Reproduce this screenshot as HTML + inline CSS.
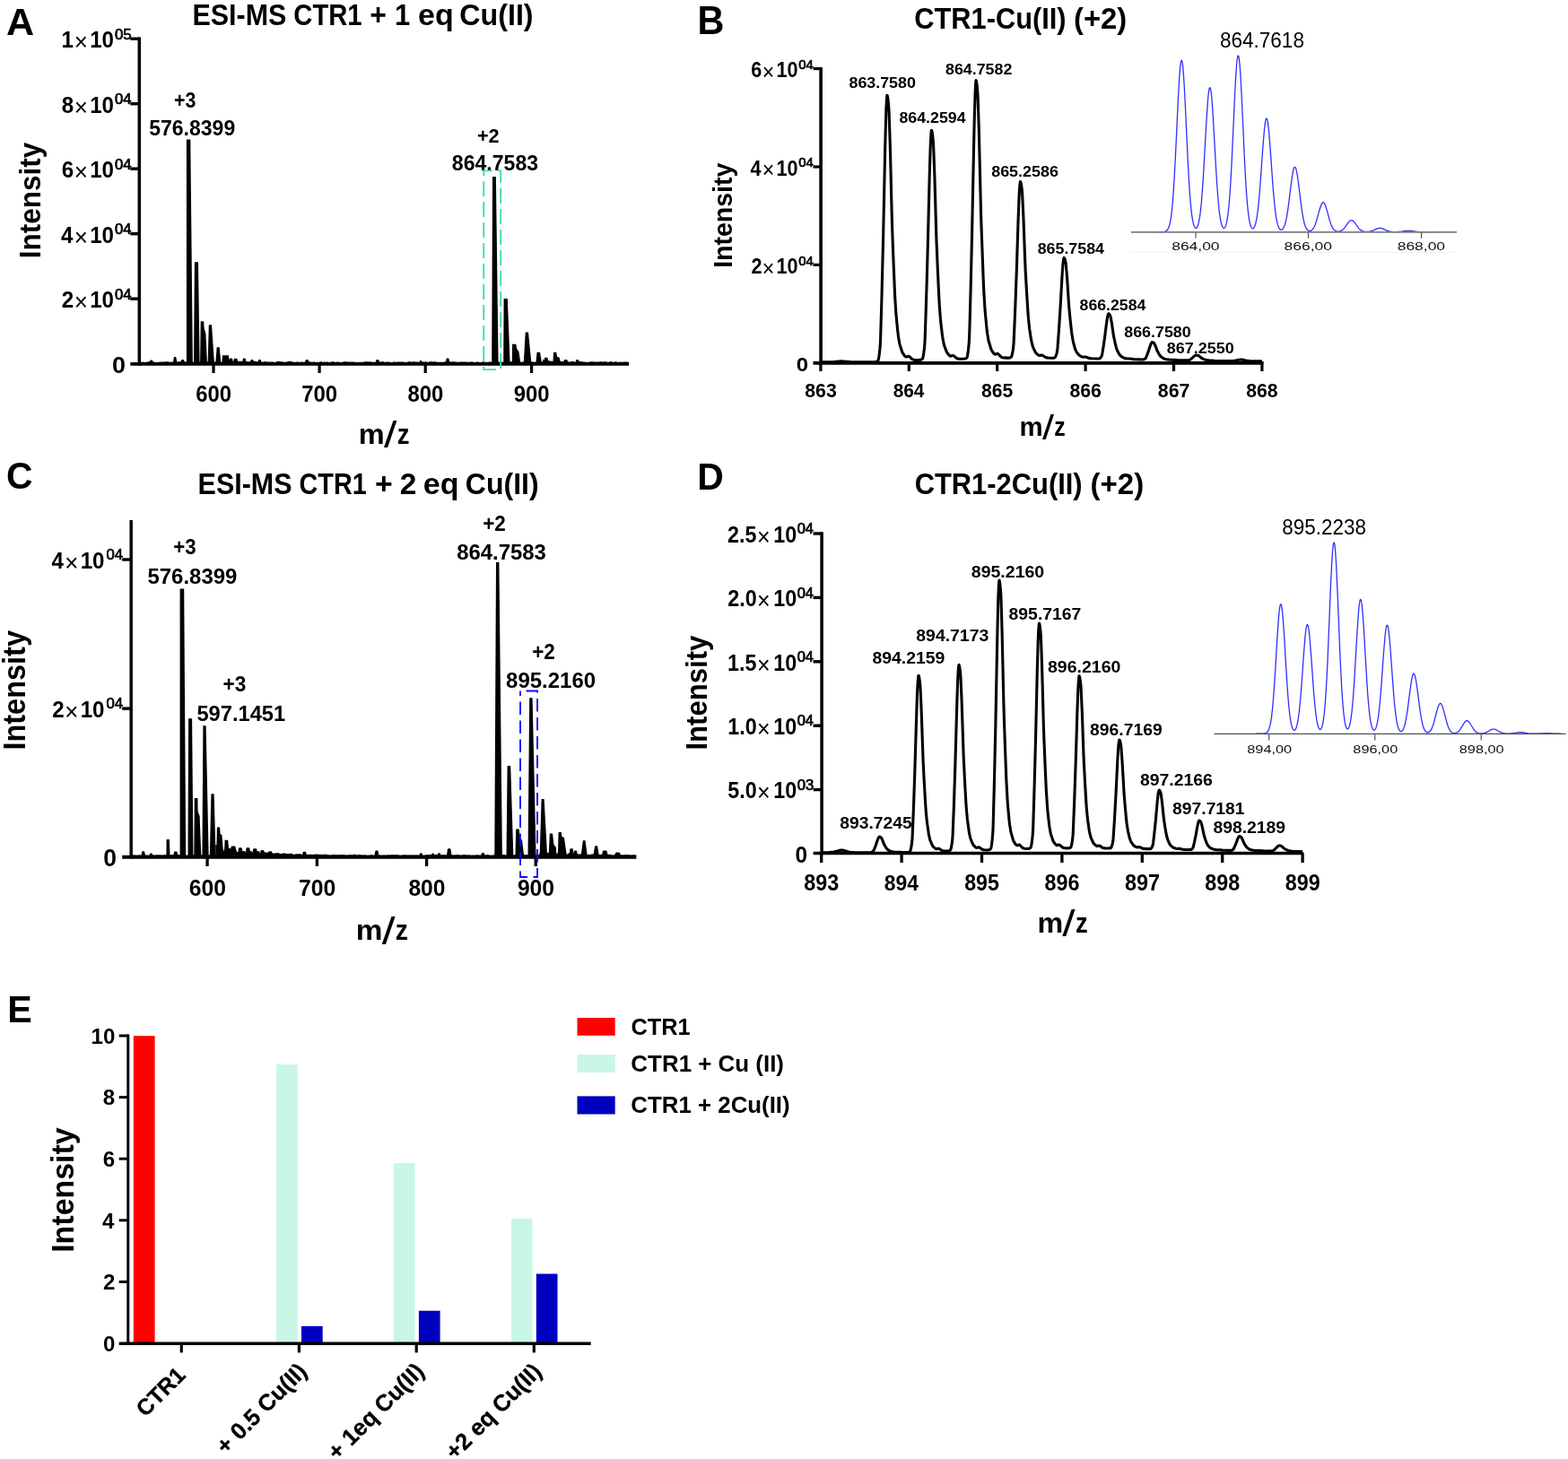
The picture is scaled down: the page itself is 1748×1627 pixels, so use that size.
<!DOCTYPE html>
<html lang="en"><head><meta charset="utf-8"><title>ESI-MS CTR1 Cu(II) figure</title>
<style>html,body{margin:0;padding:0;background:#fff;}svg{display:block;}text{font-family:"Liberation Sans",Arial,Helvetica,sans-serif;}</style></head>
<body>
<svg width="1748" height="1627" viewBox="0 0 1748 1627">
<rect width="1748" height="1627" fill="#ffffff"/>
<g id="panelA">
<text transform="translate(7.12 38.9) scale(1.0055 1.0000)" font-size="42.9" font-weight="bold" fill="#000">A</text>
<text y="27.7" font-size="33.62" font-weight="bold" fill="#000"><tspan x="214.42" textLength="104.95" lengthAdjust="spacingAndGlyphs">ESI-MS</tspan> <tspan x="327.33" textLength="76.24" lengthAdjust="spacingAndGlyphs">CTR1</tspan> <tspan x="412.32" textLength="18.62" lengthAdjust="spacingAndGlyphs">+</tspan> <tspan x="439.94" textLength="17.28" lengthAdjust="spacingAndGlyphs">1</tspan> <tspan x="466.14" textLength="39.64" lengthAdjust="spacingAndGlyphs">eq</tspan> <tspan x="512.31" textLength="82.29" lengthAdjust="spacingAndGlyphs">Cu(II)</tspan></text>
<text transform="translate(45 286.2) rotate(-90) translate(-2.05 0) scale(0.9446 1)" font-size="33.33" font-weight="bold" fill="#000">Intensity</text>
<text y="494.8" font-weight="bold" fill="#000"><tspan x="399.89" dy="0" font-size="30.75" textLength="28.91" lengthAdjust="spacingAndGlyphs">m</tspan><tspan x="428.05" dy="4.47" font-size="41.57" font-weight="normal" textLength="14.44" lengthAdjust="spacingAndGlyphs">/</tspan><tspan x="442.68" dy="-4.47" font-size="30.75" textLength="13.78" lengthAdjust="spacingAndGlyphs">z</tspan></text>
<path d="M207.9 405.8 207.9 155.6 212.3 155.6 214.9 405.8ZM216 405.8 216.9 292.2 221 292.2 222.6 405.8ZM223.1 405.8 223.7 358.2 227.2 358.2 227.6 366 229.4 372 231 405.8ZM231.6 405.8 232.8 362.2 236 362.2 239 405.8ZM240.2 405.8 241.7 387.3 244.7 387.3 246.4 405.8ZM247.1 405.8 248.1 396.3 254.9 396.3 256.1 405.8ZM548.2 405.8 549 196.9 552.9 196.9 555.6 405.8ZM561.2 405.8 561.6 333 565.8 333 568.6 405.8ZM570.7 405.8 571.1 383.7 575.3 383.7 576.2 389 578.4 392 580.5 405.8ZM583.7 405.8 585.7 370.4 589 370.4 592.5 405.8ZM597.2 405.8 598.6 392.7 602 392.7 604.2 405.8ZM606 405.8 607.2 398.7 610.4 398.7 612 405.8ZM616.3 405.8 617.1 392.7 620.3 392.7 621 398 623.6 398.5 625.1 405.8ZM166.1 405.8 167.2 402.2 167.7 401.4 169.7 401.4 170.2 402.2 171.3 405.8ZM192.7 405.8 193.75 398.7 194.2 397.9 196 397.9 196.45 398.7 197.5 405.8ZM200.7 405.8 201.85 401.8 202.4 401 204.6 401 205.15 401.8 206.3 405.8ZM259.6 405.8 260.82 400.6 261.45 399.8 263.95 399.8 264.57 400.6 265.8 405.8ZM269.7 405.8 270.8 400.3 271.3 399.5 273.3 399.5 273.8 400.3 274.9 405.8ZM278.4 405.8 279.5 401.8 280 401 282 401 282.5 401.8 283.6 405.8ZM286.8 405.8 287.9 401.8 288.4 401 290.4 401 290.9 401.8 292 405.8ZM339.4 405.8 340.55 401.7 341.1 400.9 343.3 400.9 343.85 401.7 345 405.8ZM418.1 405.8 419.25 401.8 419.8 401 422 401 422.55 401.8 423.7 405.8ZM466.8 405.8 467.8 402.8 468.2 402 469.8 402 470.2 402.8 471.2 405.8ZM496.4 405.8 497.5 400.3 498 399.5 500 399.5 500.5 400.3 501.6 405.8ZM627.6 405.8 628.83 401.8 629.45 401 631.95 401 632.58 401.8 633.8 405.8ZM641 405.8 642.1 401.8 642.6 401 644.6 401 645.1 401.8 646.2 405.8ZM254.7 405.8 255.85 400.3 256.4 399.5 258.6 399.5 259.15 400.3 260.3 405.8Z" fill="#000" stroke="none"/>
<path d="M157 405.8 157 403.77 159.01 403.77 159.01 403.48 160.36 403.48 160.36 403.95 162.13 403.95 162.13 403.77 164.36 403.77 164.36 403.29 166.97 403.29 166.97 403.84 170.08 403.84 170.08 403.54 172.76 403.54 172.76 403.91 175.26 403.91 175.26 403.72 178.36 403.72 178.36 403.58 181.49 403.58 181.49 403.39 183.56 403.39 183.56 403.32 186.82 403.32 186.82 403.26 188.32 403.26 188.32 403.79 190.48 403.79 190.48 403.46 192.8 403.46 192.8 403.65 195.28 403.65 195.28 403.49 197.98 403.49 197.98 403.22 201.36 403.22 201.36 403.42 204.46 403.42 204.46 403.19 206.91 403.19 206.91 403.39 209.94 403.39 209.94 403.5 211.28 403.5 211.28 403.28 212.67 403.28 212.67 403.32 214.2 403.32 214.2 403.72 217.32 403.72 217.32 403.92 218.62 403.92 218.62 403.39 221.76 403.39 221.76 403.18 225.16 403.18 225.16 403.71 227.68 403.71 227.68 403.93 229.78 403.93 229.78 403.47 231.07 403.47 231.07 403.27 234.38 403.27 234.38 403.24 236.59 403.24 236.59 403.54 239.1 403.54 239.1 403.51 242.37 403.51 242.37 403.55 245.15 403.55 245.15 403.77 248.51 403.77 248.51 401.44 249.73 401.44 249.73 401.59 250.98 401.59 250.98 401.46 252.31 401.46 252.31 401.75 255 401.75 255 401.89 257.83 401.89 257.83 402.95 260.51 402.95 260.51 402.14 262.72 402.14 262.72 402.47 264.72 402.47 264.72 402.74 267.23 402.74 267.23 402.84 270.13 402.84 270.13 403.04 272.94 403.04 272.94 403.09 275.91 403.09 275.91 403.23 278.07 403.23 278.07 402.94 279.98 402.94 279.98 402.99 282.14 402.99 282.14 402.86 284.08 402.86 284.08 402.82 286.28 402.82 286.28 403.44 288.64 403.44 288.64 403.32 291.69 403.32 291.69 403.5 294.66 403.5 294.66 403.06 296.62 403.06 296.62 403.6 299.57 403.6 299.57 403.51 301.69 403.51 301.69 403.4 304.91 403.4 304.91 403.69 308.19 403.69 308.19 403.01 310.34 403.01 310.34 402.98 312.03 402.98 312.03 403.17 314.69 403.17 314.69 403.42 316.64 403.42 316.64 403.68 319.13 403.68 319.13 403.58 320.43 403.58 320.43 403.11 323.67 403.11 323.67 403.12 326.13 403.12 326.13 403.84 327.71 403.84 327.71 403.63 330.07 403.63 330.07 403.53 332.61 403.53 332.61 403.63 335.71 403.63 335.71 403.5 337.68 403.5 337.68 403.74 340.68 403.74 340.68 403.76 343.91 403.76 343.91 403.26 345.13 403.26 345.13 403.4 346.44 403.4 346.44 403.71 348.8 403.71 348.8 403.59 351.7 403.59 351.7 403.94 353.18 403.94 353.18 403.84 356.53 403.84 356.53 403.26 358.83 403.26 358.83 403.69 360.8 403.69 360.8 403.42 362.8 403.42 362.8 403.79 364.27 403.79 364.27 403.49 366.31 403.49 366.31 403.88 368.33 403.88 368.33 403.46 370.37 403.46 370.37 403.3 372.51 403.3 372.51 403.65 375.26 403.65 375.26 403.61 377.47 403.61 377.47 403.75 380.2 403.75 380.2 403.89 382.34 403.89 382.34 403.24 384.36 403.24 384.36 403.23 386.14 403.23 386.14 403.58 389.13 403.58 389.13 403.42 392.07 403.42 392.07 403.42 394.51 403.42 394.51 403.87 395.72 403.87 395.72 403.84 397.02 403.84 397.02 403.88 400.16 403.88 400.16 403.81 403.21 403.81 403.21 403.86 405.89 403.86 405.89 403.29 408.37 403.29 408.37 403.32 411.25 403.32 411.25 403.55 412.69 403.55 412.69 403.36 414.02 403.36 414.02 403.7 417.05 403.7 417.05 403.76 418.8 403.76 418.8 403.46 420.86 403.46 420.86 403.66 422.83 403.66 422.83 403.62 425.13 403.62 425.13 403.18 427.98 403.18 427.98 403.83 430.84 403.83 430.84 403.42 433.11 403.42 433.11 403.44 434.63 403.44 434.63 403.88 437.85 403.88 437.85 403.55 440.63 403.55 440.63 403.81 442.27 403.81 442.27 403.49 443.98 403.49 443.98 403.41 445.83 403.41 445.83 403.4 448.91 403.4 448.91 403.49 450.59 403.49 450.59 403.94 452.63 403.94 452.63 403.82 454.54 403.82 454.54 403.34 457.92 403.34 457.92 403.58 460.15 403.58 460.15 403.29 462.58 403.29 462.58 403.57 465.66 403.57 465.66 403.64 468.97 403.64 468.97 403.59 470.69 403.59 470.69 403.39 474 403.39 474 403.28 475.62 403.28 475.62 403.75 478.37 403.75 478.37 403.27 480.13 403.27 480.13 403.27 482.26 403.27 482.26 403.38 483.66 403.38 483.66 403.29 485.65 403.29 485.65 403.5 486.86 403.5 486.86 403.69 489.13 403.69 489.13 403.79 492.43 403.79 492.43 403.65 493.89 403.65 493.89 403.74 495.34 403.74 495.34 403.25 496.76 403.25 496.76 403.21 499.65 403.21 499.65 403.35 502.34 403.35 502.34 403.44 504.13 403.44 504.13 403.36 506.81 403.36 506.81 403.53 509.09 403.53 509.09 403.68 511.79 403.68 511.79 403.51 514.41 403.51 514.41 403.46 517.56 403.46 517.56 403.44 520.81 403.44 520.81 403.85 523.6 403.85 523.6 403.48 526.22 403.48 526.22 403.59 527.81 403.59 527.81 403.91 530.67 403.91 530.67 403.53 532.66 403.53 532.66 403.75 535.78 403.75 535.78 403.93 537.53 403.93 537.53 403.34 539.46 403.34 539.46 403.64 542.36 403.64 542.36 403.68 543.8 403.68 543.8 403.74 545.25 403.74 545.25 403.34 546.86 403.34 546.86 403.81 549.69 403.81 549.69 403.31 552.19 403.31 552.19 403.84 553.82 403.84 553.82 403.54 555.46 403.54 555.46 403.76 556.73 403.76 556.73 403.32 560.02 403.32 560.02 403.65 562.5 403.65 562.5 403.45 565.21 403.45 565.21 403.72 567.48 403.72 567.48 403.48 568.68 403.48 568.68 403.34 570.96 403.34 570.96 403.54 572.59 403.54 572.59 403.54 574.89 403.54 574.89 403.44 577.34 403.44 577.34 403.19 578.83 403.19 578.83 403.33 580.15 403.33 580.15 403.67 581.52 403.67 581.52 403.53 583.43 403.53 583.43 403.26 584.92 403.26 584.92 403.27 588.16 403.27 588.16 403.39 590.12 403.39 590.12 403.31 593.21 403.31 593.21 403.61 595.48 403.61 595.48 403.87 596.85 403.87 596.85 403.8 599.15 403.8 599.15 403.4 601.28 403.4 601.28 403.44 603.5 403.44 603.5 403.35 605.09 403.35 605.09 401.1 607.1 401.1 607.1 401.94 609.61 401.94 609.61 402.79 611.27 402.79 611.27 402.29 613.49 402.29 613.49 402.81 615.06 402.81 615.06 402.75 616.32 402.75 616.32 403.04 618.6 403.04 618.6 403.26 620.79 403.26 620.79 402.67 622.1 402.67 622.1 402.89 623.36 402.89 623.36 402.58 624.76 402.58 624.76 403.04 627.33 403.04 627.33 403.22 628.65 403.22 628.65 402.89 631.58 402.89 631.58 402.95 633.44 402.95 633.44 403.38 636.43 403.38 636.43 403.11 637.84 403.11 637.84 402.94 640.34 402.94 640.34 403.74 641.74 403.74 641.74 403.62 643.06 403.62 643.06 403.08 644.7 403.08 644.7 402.93 647.67 402.93 647.67 402.94 648.95 402.94 648.95 403.49 652.23 403.49 652.23 403.74 655.3 403.74 655.3 403.73 657.23 403.73 657.23 403.24 658.82 403.24 658.82 403.22 661.86 403.22 661.86 403.38 663.85 403.38 663.85 403.55 666.77 403.55 666.77 403.5 668.34 403.5 668.34 403.3 671.11 403.3 671.11 403.58 672.64 403.58 672.64 403.35 674.87 403.35 674.87 403.29 676.29 403.29 676.29 403.71 678.9 403.71 678.9 403.2 681.09 403.2 681.09 403.19 683.02 403.19 683.02 403.64 685.1 403.64 685.1 403.17 687.55 403.17 687.55 403.85 690.18 403.85 690.18 403.75 691.72 403.75 691.72 403.42 692.94 403.42 692.94 403.75 694.63 403.75 694.63 403.49 697.55 403.49 697.55 403.45 699.92 403.45 699.92 403.8 701.1 403.8 701.1 405.8Z" fill="#000" stroke="none"/>
<line x1="155.3" y1="41.6" x2="155.3" y2="407.7" stroke="#000" stroke-width="3.5"/>
<line x1="145.3" y1="405.8" x2="701.1" y2="405.8" stroke="#000" stroke-width="3.8"/>
<line x1="145.3" y1="43.2" x2="155.6" y2="43.2" stroke="#000" stroke-width="3.4"/>
<line x1="145.3" y1="115.7" x2="155.6" y2="115.7" stroke="#000" stroke-width="3.4"/>
<line x1="145.3" y1="188.2" x2="155.6" y2="188.2" stroke="#000" stroke-width="3.4"/>
<line x1="145.3" y1="260.7" x2="155.6" y2="260.7" stroke="#000" stroke-width="3.4"/>
<line x1="145.3" y1="333.2" x2="155.6" y2="333.2" stroke="#000" stroke-width="3.4"/>
<line x1="238" y1="405.8" x2="238" y2="416" stroke="#000" stroke-width="3.2"/>
<text transform="translate(218.16 447.9) scale(0.9300 1.0000)" font-size="25.7" font-weight="bold" fill="#000">600</text>
<line x1="356.1" y1="405.8" x2="356.1" y2="416" stroke="#000" stroke-width="3.2"/>
<text transform="translate(336.14 447.9) scale(0.9300 1.0000)" font-size="25.78" font-weight="bold" fill="#000">700</text>
<line x1="474.2" y1="405.8" x2="474.2" y2="416" stroke="#000" stroke-width="3.2"/>
<text transform="translate(454.49 447.9) scale(0.9300 1.0000)" font-size="25.62" font-weight="bold" fill="#000">800</text>
<line x1="592.6" y1="405.8" x2="592.6" y2="416" stroke="#000" stroke-width="3.2"/>
<text transform="translate(572.76 447.9) scale(0.9300 1.0000)" font-size="25.7" font-weight="bold" fill="#000">900</text>
<g transform="translate(146.1 53.4) scale(0.9400 1)"><text font-size="25.7" font-weight="bold" y="0"><tspan x="-82.56">1</tspan><tspan x="-67.51" font-weight="normal" font-size="27.6" dy="3">×</tspan><tspan x="-48.88" dy="-3">10</tspan><tspan x="-19.23" dy="-9.7" font-size="16.2" font-weight="normal" stroke="#000" stroke-width="0.7" textLength="19.88" lengthAdjust="spacingAndGlyphs">05</tspan></text></g>
<g transform="translate(146.1 125.9) scale(0.9400 1)"><text font-size="25.7" font-weight="bold" y="0"><tspan x="-82.43">8</tspan><tspan x="-67.51" font-weight="normal" font-size="27.6" dy="3">×</tspan><tspan x="-48.88" dy="-3">10</tspan><tspan x="-19.22" dy="-9.7" font-size="16.2" font-weight="normal" stroke="#000" stroke-width="0.7" textLength="19.68" lengthAdjust="spacingAndGlyphs">04</tspan></text></g>
<g transform="translate(146.1 198.4) scale(0.9400 1)"><text font-size="25.7" font-weight="bold" y="0"><tspan x="-82.3">6</tspan><tspan x="-67.51" font-weight="normal" font-size="27.6" dy="3">×</tspan><tspan x="-48.88" dy="-3">10</tspan><tspan x="-19.22" dy="-9.7" font-size="16.2" font-weight="normal" stroke="#000" stroke-width="0.7" textLength="19.68" lengthAdjust="spacingAndGlyphs">04</tspan></text></g>
<g transform="translate(146.1 270.9) scale(0.9400 1)"><text font-size="25.7" font-weight="bold" y="0"><tspan x="-83.07">4</tspan><tspan x="-67.51" font-weight="normal" font-size="27.6" dy="3">×</tspan><tspan x="-48.88" dy="-3">10</tspan><tspan x="-19.22" dy="-9.7" font-size="16.2" font-weight="normal" stroke="#000" stroke-width="0.7" textLength="19.68" lengthAdjust="spacingAndGlyphs">04</tspan></text></g>
<g transform="translate(146.1 343.4) scale(0.9400 1)"><text font-size="25.7" font-weight="bold" y="0"><tspan x="-82.17">2</tspan><tspan x="-67.51" font-weight="normal" font-size="27.6" dy="3">×</tspan><tspan x="-48.88" dy="-3">10</tspan><tspan x="-19.22" dy="-9.7" font-size="16.2" font-weight="normal" stroke="#000" stroke-width="0.7" textLength="19.68" lengthAdjust="spacingAndGlyphs">04</tspan></text></g>
<text transform="translate(124.92 415.9) scale(1.0657 1.0000)" font-size="25.29" font-weight="bold" fill="#000">0</text>
<text transform="translate(193.94 120.2) scale(0.9308 1.0000)" font-size="23" font-weight="bold" fill="#000">+3</text>
<text transform="translate(166.21 151.2) scale(0.9826 1.0000)" font-size="23.43" font-weight="bold" fill="#000">576.8399</text>
<text transform="translate(531.93 158.5) scale(0.9434 1.0000)" font-size="23" font-weight="bold" fill="#000">+2</text>
<text transform="translate(503.81 189.9) scale(0.9918 1.0000)" font-size="23.29" font-weight="bold" fill="#000">864.7583</text>
<path d="M539.2 190.4H558.2V412.1H539.2Z" fill="none" stroke="#3fdfa6" stroke-width="1.9" stroke-dasharray="17 6" stroke-dashoffset="7.3"/>
</g>
<g id="panelB">
<text transform="translate(777.41 38.4) scale(0.9439 1.0000)" font-size="43.77" font-weight="bold" fill="#000">B</text>
<text y="31.8" font-size="34.06" font-weight="bold" fill="#000"><tspan x="1019.27" textLength="169.35" lengthAdjust="spacingAndGlyphs">CTR1-Cu(II)</tspan> <tspan x="1196.96" textLength="59.26" lengthAdjust="spacingAndGlyphs">(+2)</tspan></text>
<text transform="translate(815.6 297) rotate(-90) translate(-1.86 0) scale(0.9467 1)" font-size="30.14" font-weight="bold" fill="#000">Intensity</text>
<text y="485.5" font-weight="bold" fill="#000"><tspan x="1136.49" dy="0" font-size="28.68" textLength="26.1" lengthAdjust="spacingAndGlyphs">m</tspan><tspan x="1161.92" dy="4.16" font-size="38.77" font-weight="normal" textLength="13.03" lengthAdjust="spacingAndGlyphs">/</tspan><tspan x="1175.13" dy="-4.16" font-size="28.68" textLength="12.44" lengthAdjust="spacingAndGlyphs">z</tspan></text>
<path d="M915.4 403.9 925.9 403.77 929.15 403.56 935.15 403.01 937.9 402.9 940.65 402.99 947.65 403.63 951.9 403.83 974.65 403.89 977.65 403.3 978.65 402.39 978.9 402.06 979.15 401.47 979.65 398.97 980.15 395.71 980.9 388.92 981.4 382.58 981.65 376.69 982.9 333.73 984.65 262.61 986.65 167.8 987.4 137.92 987.9 121.89 988.15 116.48 988.65 108.25 988.9 106.31 989.15 106.39 989.4 107.36 989.9 110.42 990.15 112.66 990.9 121.24 991.15 126.6 992.4 165.54 994.15 237.51 994.65 254.77 995.9 288.67 997.65 330.4 998.9 350.01 1000.65 368.32 1001.4 374.64 1002.65 382.34 1003.15 384.46 1005.9 392.93 1007.15 394.91 1008.9 397.25 1009.65 397.78 1010.65 398.05 1010.9 398 1012.15 397.33 1012.65 397.23 1013.15 397.31 1014.4 398.16 1016.65 400.41 1017.9 401.09 1019.65 401.4 1024.15 401.53 1026.9 401.14 1027.4 400.95 1028.4 400.04 1028.65 399.53 1029.15 397.39 1029.65 394.59 1030.4 388.76 1030.9 383.3 1031.4 371.49 1032.65 332.99 1034.15 279.99 1036.15 198.33 1036.9 172.6 1037.4 158.8 1037.65 154.14 1038.15 147.06 1038.4 145.39 1038.65 145.47 1038.9 146.3 1039.4 148.95 1039.65 150.88 1040.4 158.29 1040.65 162.92 1041.9 196.49 1043.9 266.59 1045.4 302.65 1046.9 334.14 1047.4 342.44 1048.4 355.55 1048.9 360.57 1050.65 375.27 1052.15 383.47 1052.9 386 1055.4 392.65 1056.65 394.37 1058.4 396.42 1059.15 396.89 1060.15 397.13 1061.65 396.53 1062.15 396.45 1062.65 396.54 1063.9 397.28 1065.65 398.87 1066.4 399.41 1067.4 399.86 1068.65 400.11 1074.15 400.29 1076.65 399.83 1077.15 399.51 1077.9 398.69 1078.15 398.22 1078.4 397.33 1078.9 394.37 1079.4 390.75 1079.9 385.92 1080.4 380.01 1080.9 367.39 1082.15 321.33 1083.65 257.35 1085.65 158.74 1086.4 126.71 1087.15 102.52 1087.65 93.2 1087.9 90.32 1088.15 89.7 1088.65 91.71 1089.15 95.5 1089.9 103.83 1090.15 108.59 1091.4 148.07 1093.4 233.07 1093.9 249.58 1096.4 316.34 1096.9 327.05 1097.9 343.25 1098.4 349.7 1100.15 367.78 1100.65 371.52 1101.9 379.38 1102.4 381.32 1104.9 389.47 1105.15 390.06 1105.9 391.29 1107.4 393.53 1108.15 394.47 1108.9 394.96 1109.65 395.19 1110.15 395.07 1111.4 394.42 1111.9 394.38 1112.4 394.55 1113.65 395.53 1115.15 397.22 1115.9 397.9 1116.65 398.38 1117.65 398.72 1119.15 398.92 1123.15 399.11 1126.15 398.84 1126.65 398.61 1127.4 398.07 1127.65 397.69 1127.9 397 1128.65 393.91 1129.4 389.45 1129.9 385.27 1130.15 381.37 1131.65 346.63 1133.4 298.88 1135.15 243.21 1135.9 223.45 1136.4 212.85 1136.65 209.27 1137.15 203.84 1137.4 202.56 1137.65 202.63 1137.9 203.28 1138.4 205.32 1138.65 206.82 1139.4 212.53 1139.65 216.09 1140.9 241.92 1142.65 289.66 1143.15 301.11 1144.4 323.61 1145.9 347.85 1146.4 354.24 1147.15 361.95 1147.65 366.41 1149.4 378.12 1149.9 380.74 1151.15 385.88 1151.65 387.3 1154.4 393 1155.65 394.35 1157.4 395.96 1158.15 396.33 1159.15 396.54 1160.65 396.1 1161.15 396.05 1161.65 396.12 1162.9 396.72 1165.15 398.28 1165.9 398.62 1166.9 398.88 1168.4 399.04 1171.9 399.2 1174.9 399.09 1175.9 398.77 1176.4 398.41 1177.4 396.2 1178.15 393.61 1178.65 391.04 1178.9 388.68 1180.4 368.7 1182.15 341.42 1183.9 309.72 1184.65 298.62 1184.9 295.39 1185.4 290.88 1185.9 287.94 1186.15 287.41 1186.4 287.53 1186.9 288.47 1187.4 290.06 1187.9 292.05 1188.4 295.66 1189.65 310.62 1191.4 337.89 1191.9 344.23 1193.15 357 1194.65 370.76 1195.9 378.68 1196.4 381.17 1198.15 387.82 1198.65 389.27 1199.9 392.19 1200.4 392.97 1203.15 396.23 1205.65 397.7 1206.4 398.03 1207.65 398.26 1209.4 398.04 1210.4 398.07 1211.65 398.44 1213.9 399.35 1215.15 399.64 1216.9 399.8 1221.4 399.97 1224.65 399.97 1225.9 399.78 1226.4 399.45 1227.4 398.29 1228.15 396.97 1228.4 396.23 1228.9 393.68 1229.9 387.68 1231.65 375.56 1233.4 361.37 1234.4 354.53 1234.65 353.13 1235.15 351.2 1235.65 349.97 1235.9 349.79 1236.15 349.9 1236.65 350.35 1237.4 351.53 1237.9 352.74 1238.15 353.79 1239.4 360.63 1241.4 374.45 1243.15 382.54 1244.4 387.67 1244.9 389.22 1246.15 392.29 1248.15 395.64 1249.4 397.02 1249.9 397.44 1252.4 398.85 1253.15 399.17 1256.15 399.92 1257.65 400.04 1260.15 399.99 1263.65 400.61 1265.4 400.78 1273.65 400.96 1274.9 400.86 1275.9 400.46 1276.9 399.81 1277.4 399.02 1278.65 396.13 1280.15 392.11 1282.15 385.92 1282.9 383.9 1283.65 382.39 1284.15 381.81 1284.4 381.63 1284.65 381.6 1285.4 381.85 1286.15 382.33 1286.65 382.84 1286.9 383.27 1288.15 385.98 1290.15 391.35 1291.65 394.08 1293.4 396.8 1294.65 398.07 1296.9 399.58 1298.4 400.21 1301.4 400.9 1304.9 401.3 1308.9 401.36 1313.9 401.7 1322.4 401.86 1324.9 401.73 1325.9 401.53 1326.4 401.3 1327.65 400.42 1329.15 399.2 1331.9 396.69 1332.65 396.23 1333.65 396 1335.15 396.24 1335.9 396.53 1337.15 397.38 1339.15 399.05 1342.15 400.66 1344.15 401.28 1345.9 401.64 1347.65 401.87 1354.15 402.24 1373.65 402.53 1375.65 402.4 1381.15 401.17 1382.9 401 1384.9 401.13 1388.65 401.92 1392.9 402.48 1397.15 402.71 1406.9 402.86" fill="none" stroke="#000" stroke-width="3.1" stroke-linejoin="round" stroke-linecap="butt"/>
<line x1="915.1" y1="75" x2="915.1" y2="406.5" stroke="#000" stroke-width="3.6"/>
<line x1="906.5" y1="404.8" x2="1408.6" y2="404.8" stroke="#000" stroke-width="3.7"/>
<line x1="906.5" y1="76.6" x2="915.4" y2="76.6" stroke="#000" stroke-width="3.2"/>
<g transform="translate(906.5 86.1) scale(0.8856 1)"><text font-size="24.41" font-weight="bold" y="0"><tspan x="-78.19">6</tspan><tspan x="-64.14" font-weight="normal" font-size="26.22" dy="2.85">×</tspan><tspan x="-46.44" dy="-2.85">10</tspan><tspan x="-18.27" dy="-9.21" font-size="15.39" font-weight="normal" stroke="#000" stroke-width="0.7" textLength="18.7" lengthAdjust="spacingAndGlyphs">04</tspan></text></g>
<line x1="906.5" y1="186" x2="915.4" y2="186" stroke="#000" stroke-width="3.2"/>
<g transform="translate(906.5 195.5) scale(0.8856 1)"><text font-size="24.41" font-weight="bold" y="0"><tspan x="-78.92">4</tspan><tspan x="-64.14" font-weight="normal" font-size="26.22" dy="2.85">×</tspan><tspan x="-46.44" dy="-2.85">10</tspan><tspan x="-18.27" dy="-9.21" font-size="15.39" font-weight="normal" stroke="#000" stroke-width="0.7" textLength="18.7" lengthAdjust="spacingAndGlyphs">04</tspan></text></g>
<line x1="906.5" y1="295.4" x2="915.4" y2="295.4" stroke="#000" stroke-width="3.2"/>
<g transform="translate(906.5 304.9) scale(0.8856 1)"><text font-size="24.41" font-weight="bold" y="0"><tspan x="-78.06">2</tspan><tspan x="-64.14" font-weight="normal" font-size="26.22" dy="2.85">×</tspan><tspan x="-46.44" dy="-2.85">10</tspan><tspan x="-18.27" dy="-9.21" font-size="15.39" font-weight="normal" stroke="#000" stroke-width="0.7" textLength="18.7" lengthAdjust="spacingAndGlyphs">04</tspan></text></g>
<text transform="translate(887.74 413.8) scale(1.0980 1.0000)" font-size="21.86" font-weight="bold" fill="#000">0</text>
<line x1="914.9" y1="404.7" x2="914.9" y2="414" stroke="#000" stroke-width="3.2"/>
<text transform="translate(897.26 442.6) scale(0.9475 1.0000)" font-size="22.43" font-weight="bold" fill="#000">863</text>
<line x1="1013.3" y1="404.7" x2="1013.3" y2="414" stroke="#000" stroke-width="3.2"/>
<text transform="translate(995.67 442.6) scale(0.9300 1.0000)" font-size="22.43" font-weight="bold" fill="#000">864</text>
<line x1="1111.7" y1="404.7" x2="1111.7" y2="414" stroke="#000" stroke-width="3.2"/>
<text transform="translate(1094.07 442.6) scale(0.9416 1.0000)" font-size="22.43" font-weight="bold" fill="#000">865</text>
<line x1="1210.1" y1="404.7" x2="1210.1" y2="414" stroke="#000" stroke-width="3.2"/>
<text transform="translate(1192.46 442.6) scale(0.9475 1.0000)" font-size="22.43" font-weight="bold" fill="#000">866</text>
<line x1="1308.5" y1="404.7" x2="1308.5" y2="414" stroke="#000" stroke-width="3.2"/>
<text transform="translate(1290.86 442.6) scale(0.9504 1.0000)" font-size="22.43" font-weight="bold" fill="#000">867</text>
<line x1="1406.9" y1="404.7" x2="1406.9" y2="414" stroke="#000" stroke-width="3.2"/>
<text transform="translate(1389.26 442.6) scale(0.9445 1.0000)" font-size="22.43" font-weight="bold" fill="#000">868</text>
<text transform="translate(946.46 97.8) scale(1.0415 1.0000)" font-size="17.14" font-weight="bold" fill="#000">863.7580</text>
<text transform="translate(1002.47 137.3) scale(1.0369 1.0000)" font-size="17.14" font-weight="bold" fill="#000">864.2594</text>
<text transform="translate(1053.96 83.3) scale(1.0415 1.0000)" font-size="17.14" font-weight="bold" fill="#000">864.7582</text>
<text transform="translate(1105.16 196.8) scale(1.0473 1.0000)" font-size="17.14" font-weight="bold" fill="#000">865.2586</text>
<text transform="translate(1156.67 282.8) scale(1.0397 1.0000)" font-size="17.14" font-weight="bold" fill="#000">865.7584</text>
<text transform="translate(1203.57 345.8) scale(1.0326 1.0000)" font-size="17.14" font-weight="bold" fill="#000">866.2584</text>
<text transform="translate(1253.26 375.5) scale(1.0415 1.0000)" font-size="17.14" font-weight="bold" fill="#000">866.7580</text>
<text transform="translate(1300.86 394.3) scale(1.0472 1.0000)" font-size="17.14" font-weight="bold" fill="#000">867.2550</text>
<line x1="1261" y1="281.4" x2="1624" y2="281.4" stroke="#f3f3dd" stroke-width="1"/>
<path d="M1290 258.6 1295.5 258.56 1298 258.33 1299.5 257.88 1300.5 257.26 1301 256.81 1302 255.47 1302.5 254.51 1303.5 251.82 1304.5 247.76 1305.5 241.86 1306.5 233.66 1307.5 222.74 1309 200.77 1310.5 172.52 1313.5 108.59 1314.5 90.49 1315.5 76.8 1316 72.04 1316.5 68.86 1317 67.34 1317.5 67.51 1318 69.37 1318.5 72.87 1319 77.93 1320 92.13 1321 110.58 1324.5 184.47 1325.5 202.43 1326.5 217.52 1327.5 229.59 1328.5 238.78 1329.5 245.43 1330.5 249.96 1331 251.56 1331.5 252.78 1332 253.64 1332.5 254.19 1333 254.43 1333.5 254.37 1334 254.03 1334.5 253.38 1335 252.41 1335.5 251.1 1336.5 247.31 1337.5 241.69 1338 238.09 1339 229.12 1339.5 223.7 1341 203.62 1342 187.39 1345 133.59 1346.5 111.71 1347 106.33 1347.5 102.16 1348 99.29 1348.5 97.81 1349 97.75 1349.5 99.12 1350 101.88 1350.5 105.95 1351.5 117.6 1352.5 132.92 1355.5 186.7 1356.5 203.01 1358 223.23 1359 233.55 1359.5 237.77 1360.5 244.52 1361 247.11 1362 250.97 1362.5 252.3 1363 253.29 1363.5 253.95 1364 254.31 1364.5 254.37 1365 254.14 1365.5 253.59 1366 252.72 1366.5 251.5 1367 249.88 1367.5 247.83 1368.5 242.22 1369.5 234.23 1370 229.22 1371 216.94 1372 201.56 1373 183.2 1376.5 107.31 1377.5 88.21 1378.5 73.4 1379 68.09 1379.5 64.36 1380 62.3 1380.5 61.99 1381 63.42 1381.5 66.56 1382 71.32 1383 85.18 1384.5 114.05 1387 169.28 1388 189.38 1389 206.82 1390 221.21 1391 232.52 1391.5 237.09 1392.5 244.3 1393 247.04 1394 251.08 1394.5 252.48 1395 253.53 1395.5 254.26 1396 254.7 1396.5 254.87 1397 254.77 1397.5 254.42 1398 253.79 1398.5 252.89 1399 251.68 1400 248.26 1400.5 245.98 1401.5 240.14 1402 236.51 1403 227.77 1404.5 210.95 1408 162.16 1409.5 144.43 1410.5 136.4 1411 133.85 1411.5 132.38 1412 132.02 1412.5 132.78 1413 134.65 1413.5 137.57 1414.5 146.25 1416 164.6 1418.5 200.16 1419.5 213.19 1420.5 224.55 1421.5 233.96 1422.5 241.37 1423 244.38 1424 249.13 1424.5 250.95 1425.5 253.64 1426 254.59 1426.5 255.31 1427 255.83 1427.5 256.16 1428 256.32 1428.5 256.32 1429 256.17 1429.5 255.85 1430 255.37 1430.5 254.72 1431.5 252.84 1432 251.57 1433 248.3 1433.5 246.27 1434.5 241.35 1436 231.85 1439.5 203.99 1441 193.71 1442 188.97 1442.5 187.43 1443 186.5 1443.5 186.2 1444 186.55 1444.5 187.53 1445 189.12 1446 193.94 1447.5 204.3 1451 232.14 1452 238.71 1453 244.17 1454 248.49 1454.5 250.25 1455.5 253.03 1456 254.1 1457 255.7 1457.5 256.27 1458.5 257.04 1459 257.27 1460 257.45 1461 257.31 1462 256.85 1463 256.04 1463.5 255.48 1464.5 254.04 1465 253.13 1466 250.93 1467.5 246.67 1471 234.03 1472.5 229.3 1473.5 227.08 1474 226.34 1474.5 225.88 1475 225.7 1475.5 225.82 1476 226.22 1476.5 226.91 1477.5 229.03 1479 233.68 1482.5 246.35 1483.5 249.37 1484.5 251.89 1485.5 253.89 1486 254.7 1487 256 1487.5 256.5 1488.5 257.25 1490 257.89 1491.5 258.11 1492.5 258.08 1493.5 257.92 1495 257.4 1496.5 256.49 1497.5 255.64 1499 253.97 1502.5 248.99 1504 247.1 1505 246.19 1505.5 245.89 1506.5 245.6 1507 245.63 1508 246.03 1508.5 246.39 1509.5 247.38 1510.5 248.66 1514 253.67 1515 254.88 1516 255.88 1517 256.69 1518.5 257.54 1519.5 257.91 1521 258.25 1522.5 258.4 1524.5 258.4 1526.5 258.21 1528 257.92 1530.5 257.1 1535.5 254.82 1537 254.41 1538 254.3 1539.5 254.43 1541 254.86 1545.5 256.94 1547.5 257.68 1549.5 258.16 1552 258.45 1555.5 258.54 1559 258.43 1562 258.15 1567.5 257.41 1570 257.3 1572.5 257.46 1578 258.21 1581.5 258.49 1586.5 258.59 1600 258.6" fill="none" stroke="#2f2fff" stroke-width="1.3" stroke-linejoin="round" stroke-linecap="butt"/>
<line x1="1261" y1="258.9" x2="1624" y2="258.9" stroke="#7d7d7d" stroke-width="1.7"/>
<line x1="1333" y1="259.5" x2="1333" y2="265.6" stroke="#333" stroke-width="1"/>
<text transform="translate(1306.21 278.7) scale(1.4203 1.0000)" font-size="12.29" font-weight="normal" fill="#111">864,00</text>
<line x1="1458.4" y1="259.5" x2="1458.4" y2="265.6" stroke="#333" stroke-width="1"/>
<text transform="translate(1431.61 278.7) scale(1.4203 1.0000)" font-size="12.29" font-weight="normal" fill="#111">866,00</text>
<line x1="1584.5" y1="259.5" x2="1584.5" y2="265.6" stroke="#333" stroke-width="1"/>
<text transform="translate(1557.71 278.7) scale(1.4203 1.0000)" font-size="12.29" font-weight="normal" fill="#111">868,00</text>
<text transform="translate(1359.88 52.6) scale(0.9300 1.0000)" font-size="24.27" font-weight="normal" fill="#000">864.7618</text>
</g>
<g id="panelC">
<text transform="translate(7.06 545.4) scale(0.9547 1.0000)" font-size="42.86" font-weight="bold" fill="#000">C</text>
<text y="551" font-size="33.62" font-weight="bold" fill="#000"><tspan x="220.62" textLength="104.84" lengthAdjust="spacingAndGlyphs">ESI-MS</tspan> <tspan x="333.55" textLength="75.11" lengthAdjust="spacingAndGlyphs">CTR1</tspan> <tspan x="418.05" textLength="19.77" lengthAdjust="spacingAndGlyphs">+</tspan> <tspan x="445.63" textLength="18.65" lengthAdjust="spacingAndGlyphs">2</tspan> <tspan x="471.84" textLength="39.75" lengthAdjust="spacingAndGlyphs">eq</tspan> <tspan x="518.82" textLength="81.77" lengthAdjust="spacingAndGlyphs">Cu(II)</tspan></text>
<text transform="translate(27.5 834.5) rotate(-90) translate(-2.11 0) scale(0.9305 1)" font-size="34.93" font-weight="bold" fill="#000">Intensity</text>
<text y="1048" font-weight="bold" fill="#000"><tspan x="396.83" dy="0" font-size="31.32" textLength="29.67" lengthAdjust="spacingAndGlyphs">m</tspan><tspan x="425.74" dy="4.55" font-size="42.34" font-weight="normal" textLength="14.82" lengthAdjust="spacingAndGlyphs">/</tspan><tspan x="440.75" dy="-4.55" font-size="31.32" textLength="14.14" lengthAdjust="spacingAndGlyphs">z</tspan></text>
<path d="M200.6 955.7 200.6 656.5 205.2 656.5 207.2 955.7ZM209.5 955.7 210.1 801.2 214.1 801.2 215.5 955.7ZM216.3 955.7 216.8 890 220.4 890 220.6 905 222.6 910 224.4 955.7ZM225.4 955.7 226.4 809.2 229.6 809.2 232.7 955.7ZM233.8 955.7 235.4 885.2 238.6 885.2 240.6 955.7ZM241.1 955.7 241.9 922.6 245.1 922.6 245.6 930 247.4 931 249.5 955.7ZM249.8 955.7 250.6 936.7 254.2 936.7 255.8 955.7ZM185.4 955.7 185.6 936 188.8 936 189.6 955.7ZM551.3 955.7 553 627.1 556.4 627.1 559.9 955.7ZM564.5 955.7 565.6 854.1 569.2 854.1 572.4 955.7ZM574.4 955.7 575.2 924.4 578.8 924.4 579.6 934 582 937 584.4 955.7ZM588.5 955.7 590.2 778.3 593.6 778.3 597.6 955.7ZM601.6 955.7 603.6 890.9 606.6 890.9 610.2 955.7ZM611.6 955.7 612.8 929.5 616 929.5 617.5 942 620 945 620.4 955.7ZM621.8 955.7 622.6 928.1 625.8 928.1 626.4 933 629 934 632 955.7ZM647.4 955.7 649.9 937.2 652.5 937.2 655 955.7ZM661 955.7 663.2 943.2 666 943.2 668.2 955.7ZM157.1 955.7 158.2 950 158.7 949.2 160.7 949.2 161.2 950 162.3 955.7ZM165.9 955.7 166.95 952.3 167.4 951.5 169.2 951.5 169.65 952.3 170.7 955.7ZM192.8 955.7 194 950.4 194.6 949.6 197 949.6 197.6 950.4 198.8 955.7ZM256.1 955.7 257.55 944.4 258.4 943.6 261.8 943.6 262.65 944.4 264.1 955.7ZM264.7 955.7 265.95 946.1 266.6 945.3 269.2 945.3 269.85 946.1 271.1 955.7ZM273.2 955.7 274.45 946.1 275.1 945.3 277.7 945.3 278.35 946.1 279.6 955.7ZM280.8 955.7 282.1 947.1 282.8 946.3 285.6 946.3 286.3 947.1 287.6 955.7ZM289.2 955.7 290.45 948.8 291.1 948 293.7 948 294.35 948.8 295.6 955.7ZM298.1 955.7 299.35 950 300 949.2 302.6 949.2 303.25 950 304.5 955.7ZM307.1 955.7 308.25 951.8 308.8 951 311 951 311.55 951.8 312.7 955.7ZM314 955.7 315.15 952.4 315.7 951.6 317.9 951.6 318.45 952.4 319.6 955.7ZM321.3 955.7 322.55 952.6 323.2 951.8 325.8 951.8 326.45 952.6 327.7 955.7ZM336.4 955.7 337.6 950.6 338.2 949.8 340.6 949.8 341.2 950.6 342.4 955.7ZM417.1 955.7 418.25 949.2 418.8 948.4 421 948.4 421.55 949.2 422.7 955.7ZM466.9 955.7 467.95 952.1 468.4 951.3 470.2 951.3 470.65 952.1 471.7 955.7ZM480.4 955.7 481.4 952.4 481.8 951.6 483.4 951.6 483.8 952.4 484.8 955.7ZM486.9 955.7 488 952.1 488.5 951.3 490.5 951.3 491 952.1 492.1 955.7ZM497.7 955.7 498.9 947 499.5 946.2 501.9 946.2 502.5 947 503.7 955.7ZM535.8 955.7 536.9 951.8 537.4 951 539.4 951 539.9 951.8 541 955.7ZM634.1 955.7 635.3 947.1 635.9 946.3 638.3 946.3 638.9 947.1 640.1 955.7ZM639 955.7 640.1 949.2 640.6 948.4 642.6 948.4 643.1 949.2 644.2 955.7ZM670.5 955.7 671.9 949.2 672.7 948.4 675.9 948.4 676.7 949.2 678.1 955.7ZM684.6 955.7 686.05 951.2 686.9 950.4 690.3 950.4 691.15 951.2 692.6 955.7Z" fill="#000" stroke="none"/>
<path d="M148 955.7 148 953.6 150.63 953.6 150.63 953.8 152.64 953.8 152.64 953.81 153.92 953.81 153.92 953.51 155.32 953.51 155.32 953.52 156.79 953.52 156.79 953.68 160.08 953.68 160.08 953.4 163.42 953.4 163.42 953.82 165.26 953.82 165.26 953.74 167.14 953.74 167.14 953.21 169.62 953.21 169.62 953.35 172.02 953.35 172.02 953.81 173.68 953.81 173.68 953.32 175.57 953.32 175.57 953.39 177.43 953.39 177.43 953.22 179.16 953.22 179.16 953.4 182.29 953.4 182.29 953.28 185.65 953.28 185.65 953.77 188.51 953.77 188.51 953.74 189.8 953.74 189.8 953.33 192.26 953.33 192.26 953.16 194.99 953.16 194.99 953.38 197.19 953.38 197.19 953.19 199.44 953.19 199.44 953.33 202.18 953.33 202.18 953.34 205.19 953.34 205.19 953.63 207.86 953.63 207.86 953.84 209.43 953.84 209.43 953.77 212.32 953.77 212.32 953.76 214.38 953.76 214.38 953.16 216.57 953.16 216.57 953.42 219.57 953.42 219.57 953.17 221.68 953.17 221.68 953.57 224.99 953.57 224.99 953.74 226.7 953.74 226.7 953.67 229.2 953.67 229.2 953.65 231.32 953.65 231.32 953.56 234.61 953.56 234.61 953.31 237.17 953.31 237.17 953.32 240.35 953.32 240.35 942.09 243.31 942.09 243.31 945.82 244.73 945.82 244.73 947.69 246.08 947.69 246.08 947.7 248.03 947.7 248.03 948.91 249.56 948.91 249.56 947.34 250.82 947.34 250.82 945.77 252.35 945.77 252.35 947.72 254.35 947.72 254.35 946.01 257.73 946.01 257.73 947.77 259.12 947.77 259.12 948.78 260.9 948.78 260.9 949.06 262.16 949.06 262.16 947.83 263.68 947.83 263.68 950.02 266.04 950.02 266.04 947.25 268.77 947.25 268.77 949.66 270.34 949.66 270.34 948.94 273.25 948.94 273.25 950.4 276.24 950.4 276.24 948.58 279.21 948.58 279.21 949.29 280.91 949.29 280.91 950.52 282.17 950.52 282.17 951.16 283.94 951.16 283.94 949.39 286.13 949.39 286.13 949.35 289.43 949.35 289.43 951.44 291.13 951.44 291.13 951.69 293.7 951.69 293.7 950.26 295.96 950.26 295.96 950.67 297.34 950.67 297.34 950.6 300.26 950.6 300.26 951.29 301.86 951.29 301.86 951.53 304.82 951.53 304.82 951.43 306.9 951.43 306.9 951.16 308.47 951.16 308.47 952.51 311.67 952.51 311.67 952.07 314.68 952.07 314.68 951.54 316.65 951.54 316.65 952.42 317.89 952.42 317.89 951.67 320.24 951.67 320.24 951.96 323.36 951.96 323.36 952.29 325.12 952.29 325.12 952.74 327.61 952.74 327.61 952.7 329.09 952.7 329.09 952.26 331.3 952.26 331.3 952.23 333.43 952.23 333.43 952.25 335.8 952.25 335.8 952.88 337.97 952.88 337.97 953.19 340.92 953.19 340.92 953.01 343.72 953.01 343.72 952.82 346.06 952.82 346.06 952.66 347.49 952.66 347.49 952.9 349.3 952.9 349.3 952.65 351.74 952.65 351.74 952.55 353.91 952.55 353.91 952.85 356.24 952.85 356.24 952.83 358.61 952.83 358.61 952.88 361.35 952.88 361.35 952.6 363.12 952.6 363.12 952.88 366.17 952.88 366.17 953.46 368.34 953.46 368.34 953.5 369.71 953.5 369.71 952.91 372.88 952.91 372.88 953.36 375.53 953.36 375.53 953.36 378.86 953.36 378.86 953.32 380.94 953.32 380.94 953.12 383.97 953.12 383.97 953.5 386.3 953.5 386.3 953.4 388.2 953.4 388.2 953.13 390.62 953.13 390.62 953.37 392.55 953.37 392.55 953.16 393.89 953.16 393.89 952.84 397.23 952.84 397.23 953.63 398.52 953.63 398.52 953.09 400 953.09 400 953.31 403 953.31 403 953.54 406.23 953.54 406.23 953.24 407.62 953.24 407.62 953.66 409.76 953.66 409.76 953.64 412.35 953.64 412.35 953.13 415.44 953.13 415.44 953.67 417.64 953.67 417.64 953.48 420.87 953.48 420.87 953.57 423.23 953.57 423.23 953.6 424.79 953.6 424.79 953.75 426.68 953.75 426.68 953.52 428.51 953.52 428.51 953.4 430.48 953.4 430.48 953.78 431.71 953.78 431.71 953.2 433.33 953.2 433.33 953.39 434.76 953.39 434.76 953.14 437.05 953.14 437.05 953.13 439.36 953.13 439.36 953.23 441.32 953.23 441.32 953.13 443.92 953.13 443.92 953.49 445.24 953.49 445.24 953.72 448.07 953.72 448.07 953.62 449.45 953.62 449.45 953.13 452.13 953.13 452.13 953.6 453.97 953.6 453.97 953.46 456.15 953.46 456.15 953.6 459.49 953.6 459.49 953.39 462.82 953.39 462.82 953.58 464.02 953.58 464.02 953.52 466.33 953.52 466.33 953.67 467.54 953.67 467.54 953.63 469.62 953.63 469.62 953.81 471.49 953.81 471.49 953.64 473.85 953.64 473.85 953.23 476.63 953.23 476.63 953.13 478.54 953.13 478.54 953.05 481.34 953.05 481.34 953.33 484.37 953.33 484.37 953.12 487.19 953.12 487.19 953.2 489.54 953.2 489.54 953.44 492.51 953.44 492.51 953.18 495.67 953.18 495.67 953.3 497.38 953.3 497.38 953.82 499.37 953.82 499.37 953.76 501.8 953.76 501.8 953.34 504.5 953.34 504.5 953.46 507.46 953.46 507.46 953.25 509.83 953.25 509.83 953.33 512.65 953.33 512.65 953.65 514.44 953.65 514.44 953.27 517.27 953.27 517.27 953.07 519.31 953.07 519.31 953.47 522.19 953.47 522.19 953.36 523.57 953.36 523.57 953.74 526.4 953.74 526.4 953.61 527.63 953.61 527.63 953.81 530.31 953.81 530.31 953.3 532.15 953.3 532.15 953.44 534.37 953.44 534.37 953.76 536.01 953.76 536.01 953.07 537.25 953.07 537.25 953.49 540.58 953.49 540.58 953.5 542.24 953.5 542.24 953.1 544.72 953.1 544.72 953.74 548.02 953.74 548.02 953.75 550.33 953.75 550.33 953.15 552.04 953.15 552.04 953.14 553.3 953.14 553.3 953.85 555.49 953.85 555.49 953.62 557.45 953.62 557.45 953.6 558.65 953.6 558.65 953.26 560.11 953.26 560.11 953.12 563.3 953.12 563.3 953.63 565.36 953.63 565.36 953.06 567.36 953.06 567.36 953.52 568.66 953.52 568.66 953.78 570.49 953.78 570.49 953.11 572.28 953.11 572.28 953.45 574.3 953.45 574.3 953.09 577.28 953.09 577.28 953.35 580.55 953.35 580.55 953.42 581.86 953.42 581.86 953.27 584.72 953.27 584.72 953.34 586.02 953.34 586.02 953.12 588.26 953.12 588.26 953.58 591.09 953.58 591.09 953.08 593.73 953.08 593.73 953.62 595.8 953.62 595.8 953.73 597.46 953.73 597.46 953.13 599.14 953.13 599.14 953.13 601.33 953.13 601.33 950.88 602.73 950.88 602.73 951.06 604.46 951.06 604.46 950.2 607.61 950.2 607.61 950.42 609.72 950.42 609.72 950.83 611.66 950.83 611.66 951.52 614.99 951.52 614.99 951.31 617.58 951.31 617.58 951.33 619.37 951.33 619.37 951.65 621.56 951.65 621.56 950.6 624.68 950.6 624.68 952.57 627.44 952.57 627.44 951.46 629.93 951.46 629.93 952.38 633.17 952.38 633.17 951.4 636.51 951.4 636.51 952.68 638.05 952.68 638.05 952.02 641.32 952.02 641.32 952.02 644.2 952.02 644.2 952.4 645.49 952.4 645.49 952.39 648.71 952.39 648.71 952.53 650.19 952.53 650.19 952.68 652.93 952.68 652.93 953.18 655.28 953.18 655.28 952.68 656.97 952.68 656.97 952.88 658.84 952.88 658.84 952.58 661.46 952.58 661.46 952.52 663.17 952.52 663.17 952.86 665.92 952.86 665.92 953.23 668.22 953.23 668.22 952.81 669.98 952.81 669.98 952.67 671.68 952.67 671.68 953.4 673.81 953.4 673.81 952.95 676.76 952.95 676.76 952.85 678.41 952.85 678.41 952.74 681.42 952.74 681.42 953.38 684.29 953.38 684.29 953.18 686.58 953.18 686.58 953.45 688.7 953.45 688.7 952.94 690.22 952.94 690.22 953.31 693.56 953.31 693.56 953.56 694.9 953.56 694.9 953.23 698.04 953.23 698.04 952.97 701.29 952.97 701.29 953.43 704.55 953.43 704.55 953.13 707.21 953.13 707.21 953.4 709.14 953.4 709.14 953.61 709.3 953.61 709.3 955.7Z" fill="#000" stroke="none"/>
<line x1="146.2" y1="580.1" x2="146.2" y2="957.6" stroke="#000" stroke-width="3.4"/>
<line x1="136.2" y1="955.7" x2="709.3" y2="955.7" stroke="#000" stroke-width="4"/>
<line x1="136.2" y1="624" x2="146.2" y2="624" stroke="#000" stroke-width="3.4"/>
<g transform="translate(136.6 633.9) scale(0.9400 1)"><text font-size="25.7" font-weight="bold" y="0"><tspan x="-84.14">4</tspan><tspan x="-68.58" font-weight="normal" font-size="27.6" dy="3">×</tspan><tspan x="-49.95" dy="-3">10</tspan><tspan x="-19.22" dy="-9.7" font-size="16.2" font-weight="normal" stroke="#000" stroke-width="0.7" textLength="19.68" lengthAdjust="spacingAndGlyphs">04</tspan></text></g>
<line x1="136.2" y1="790.1" x2="146.2" y2="790.1" stroke="#000" stroke-width="3.4"/>
<g transform="translate(136.6 800) scale(0.9400 1)"><text font-size="25.7" font-weight="bold" y="0"><tspan x="-83.24">2</tspan><tspan x="-68.58" font-weight="normal" font-size="27.6" dy="3">×</tspan><tspan x="-49.95" dy="-3">10</tspan><tspan x="-19.22" dy="-9.7" font-size="16.2" font-weight="normal" stroke="#000" stroke-width="0.7" textLength="19.68" lengthAdjust="spacingAndGlyphs">04</tspan></text></g>
<text transform="translate(115.14 966) scale(0.9300 1.0000)" font-size="28.52" font-weight="bold" fill="#000">0</text>
<line x1="231.1" y1="955.7" x2="231.1" y2="966" stroke="#000" stroke-width="3.3"/>
<text transform="translate(210.78 998.7) scale(0.9300 1.0000)" font-size="26.58" font-weight="bold" fill="#000">600</text>
<line x1="353.4" y1="955.7" x2="353.4" y2="966" stroke="#000" stroke-width="3.3"/>
<text transform="translate(332.96 998.7) scale(0.9300 1.0000)" font-size="26.66" font-weight="bold" fill="#000">700</text>
<line x1="475.6" y1="955.7" x2="475.6" y2="966" stroke="#000" stroke-width="3.3"/>
<text transform="translate(455.41 998.7) scale(0.9300 1.0000)" font-size="26.49" font-weight="bold" fill="#000">800</text>
<line x1="597.2" y1="955.7" x2="597.2" y2="966" stroke="#000" stroke-width="3.3"/>
<text transform="translate(576.88 998.7) scale(0.9300 1.0000)" font-size="26.58" font-weight="bold" fill="#000">900</text>
<text transform="translate(193.21 618.1) scale(0.9441 1.0000)" font-size="23.57" font-weight="bold" fill="#000">+3</text>
<text transform="translate(164.48 650.6) scale(1.0169 1.0000)" font-size="23.57" font-weight="bold" fill="#000">576.8399</text>
<text transform="translate(248.49 771.3) scale(0.9600 1.0000)" font-size="23.57" font-weight="bold" fill="#000">+3</text>
<text transform="translate(219.39 804.2) scale(1.0052 1.0000)" font-size="23.57" font-weight="bold" fill="#000">597.1451</text>
<text transform="translate(538.2 592.2) scale(0.9565 1.0000)" font-size="23.57" font-weight="bold" fill="#000">+2</text>
<text transform="translate(509.18 624.3) scale(1.0149 1.0000)" font-size="23.57" font-weight="bold" fill="#000">864.7583</text>
<text transform="translate(593.2 734.8) scale(0.9525 1.0000)" font-size="23.57" font-weight="bold" fill="#000">+2</text>
<text transform="translate(564.08 766.9) scale(1.0182 1.0000)" font-size="23.57" font-weight="bold" fill="#000">895.2160</text>
<path d="M580 770.5H599V978H580Z" fill="none" stroke="#0a0aff" stroke-width="1.8" stroke-dasharray="14.5 6.5" stroke-dashoffset="14.5"/>
</g>
<g id="panelD">
<text transform="translate(777.34 545.8) scale(0.9552 1.0000)" font-size="42.9" font-weight="bold" fill="#000">D</text>
<text y="550.6" font-size="33.91" font-weight="bold" fill="#000"><tspan x="1019.66" textLength="186.99" lengthAdjust="spacingAndGlyphs">CTR1-2Cu(II)</tspan> <tspan x="1215.45" textLength="59.79" lengthAdjust="spacingAndGlyphs">(+2)</tspan></text>
<text transform="translate(788 834.5) rotate(-90) translate(-2.02 0) scale(0.9584 1)" font-size="32.46" font-weight="bold" fill="#000">Intensity</text>
<text y="1039.7" font-weight="bold" fill="#000"><tspan x="1156.4" dy="0" font-size="30.75" textLength="28.7" lengthAdjust="spacingAndGlyphs">m</tspan><tspan x="1184.36" dy="4.47" font-size="41.57" font-weight="normal" textLength="14.33" lengthAdjust="spacingAndGlyphs">/</tspan><tspan x="1198.88" dy="-4.47" font-size="30.75" textLength="13.68" lengthAdjust="spacingAndGlyphs">z</tspan></text>
<path d="M916.1 950.7 923.85 950.65 927.6 950.4 930.6 949.83 935.6 948.38 937.85 948.1 938.85 948.14 940.1 948.32 946.1 950 947.85 950.33 949.85 950.54 953.1 950.67 958.85 950.7 967.6 950.7 971.35 950.55 972.6 950.03 973.35 949.51 973.6 949.18 974.85 946.46 976.35 942.59 978.35 936.6 979.1 934.74 979.85 933.52 980.3 933.13 980.6 933.11 981.1 933.25 981.85 933.67 982.35 934.1 982.6 934.5 983.6 936.5 985.6 941.61 986.85 943.8 988.35 946.12 989.85 947.64 991.85 948.9 993.6 949.54 996.1 950.04 997.85 950.21 999.85 950.34 1002.85 950.31 1006.85 950.52 1010.35 950.56 1012.85 950.27 1013.6 950.09 1014.6 949.33 1014.85 948.89 1015.6 945.9 1016.1 943.1 1016.85 937.25 1017.1 933.53 1018.35 903.07 1019.85 859.62 1021.85 792.53 1022.6 771.66 1022.85 765.86 1023.35 758.05 1023.8 753.68 1023.85 753.51 1024.1 753.36 1024.6 754.97 1025.35 759.65 1025.85 764.57 1026.1 769 1027.1 791.4 1029.1 848.69 1030.35 873.24 1031.85 899.23 1032.35 905.79 1033.35 916.3 1035.35 930.36 1036.85 936.9 1039.35 942.63 1040.1 943.84 1042.6 946.26 1043.35 946.59 1044.1 946.72 1045.6 946.22 1046.35 946.21 1047.6 946.79 1049.85 948.37 1050.85 948.74 1051.85 948.9 1055.6 949.02 1058.1 948.71 1058.6 948.58 1059.6 947.79 1059.85 947.33 1060.1 946.48 1060.6 944.19 1061.1 941.24 1061.85 935.09 1062.1 931.18 1063.35 899.11 1064.85 853.35 1066.85 782.7 1067.6 760.72 1067.85 754.61 1068.35 746.4 1068.8 741.8 1068.85 741.62 1069.1 741.47 1069.6 743.16 1070.35 748.1 1070.85 753.29 1071.1 757.96 1072.1 781.57 1074.1 841.95 1075.35 867.83 1076.85 895.23 1077.35 902.15 1078.35 913.23 1080.35 928.06 1081.85 934.97 1084.35 941.04 1085.1 942.32 1087.6 944.9 1088.35 945.25 1089.1 945.39 1090.6 944.88 1091.35 944.88 1092.6 945.5 1094.35 946.87 1095.1 947.31 1096.1 947.65 1097.35 947.82 1100.6 947.93 1103.1 947.49 1103.6 947.3 1104.6 946.16 1104.85 945.49 1105.1 944.27 1105.6 940.94 1106.1 936.67 1106.85 927.76 1107.1 922.09 1108.35 875.6 1109.85 809.27 1111.85 706.87 1112.6 675 1112.85 666.15 1113.35 654.24 1113.8 647.58 1113.85 647.31 1114.1 647.1 1114.6 649.55 1115.35 656.72 1115.85 664.24 1116.1 671.01 1117.1 705.24 1118.85 783.14 1119.35 800.88 1120.6 837.21 1121.85 870.02 1123.1 892.52 1123.6 899.16 1125.1 915.39 1125.6 919.49 1126.85 927.63 1129.6 937.22 1130.35 938.7 1131.85 941.04 1132.6 942.04 1133.35 942.56 1134.1 942.77 1134.35 942.72 1135.6 942.03 1136.1 941.97 1136.6 942.14 1137.6 942.93 1139.1 944.66 1139.85 945.38 1140.6 945.86 1141.35 946.13 1142.6 946.32 1145.1 946.45 1147.6 946.13 1148.1 945.97 1149.1 945.04 1149.35 944.49 1149.6 943.47 1150.35 939.07 1151.1 932.61 1151.6 924.95 1151.85 918.05 1153.1 877.3 1154.6 821.08 1156.35 745.04 1157.1 718.4 1157.35 711 1157.85 701.04 1158.3 695.48 1158.35 695.26 1158.6 695.08 1159.1 697.15 1159.85 703.15 1160.35 709.45 1160.6 715.11 1161.6 743.76 1163.35 808.93 1163.85 823.78 1165.1 854.19 1166.35 881.64 1167.6 900.48 1168.1 906.04 1169.6 919.63 1170.1 923.07 1171.35 929.9 1174.1 937.96 1174.85 939.2 1177.1 942.03 1177.85 942.47 1178.6 942.66 1180.1 942.06 1180.6 942.02 1181.1 942.16 1182.1 942.84 1183.6 944.3 1184.35 944.91 1185.1 945.32 1185.85 945.56 1187.1 945.74 1189.85 945.88 1192.6 945.6 1193.6 944.96 1193.85 944.65 1194.1 944.02 1194.85 940.84 1195.6 936.12 1196.1 931.2 1196.35 926.5 1197.6 895.86 1199.35 845.57 1200.85 795.13 1201.6 774.2 1201.85 768.13 1202.35 759.68 1202.85 754.46 1203.1 753.76 1203.35 754.22 1203.6 755.05 1204.1 757.64 1204.85 763.56 1205.1 767.33 1206.35 794.98 1207.85 838.25 1208.35 850.34 1209.6 873.86 1210.85 895.05 1211.35 901.91 1212.1 910.01 1212.6 914.54 1214.1 925.06 1214.6 927.87 1215.85 933.24 1216.35 934.61 1218.85 940.02 1220.35 941.66 1221.6 942.84 1222.35 943.22 1223.1 943.4 1223.6 943.34 1224.85 942.94 1225.6 943.02 1226.6 943.52 1228.85 945.14 1229.6 945.48 1230.35 945.68 1231.85 945.86 1234.6 945.99 1237.35 945.87 1238.35 945.5 1238.6 945.33 1238.85 944.99 1239.6 943.05 1240.35 940.15 1240.85 937.28 1241.1 934.56 1242.35 915.43 1244.1 883.88 1245.85 847.3 1246.6 834.83 1246.85 831.6 1247.35 827.25 1247.6 825.71 1247.85 825.09 1248.1 825.28 1248.35 825.77 1248.85 827.33 1249.6 830.93 1249.85 833.1 1251.1 850.28 1253.1 885.38 1254.35 900.31 1255.6 913.75 1256.1 918.21 1256.85 923.37 1257.35 926.31 1259.1 934 1260.6 938.27 1261.1 939.19 1263.6 942.65 1265.85 944.2 1266.6 944.6 1267.85 944.88 1269.6 944.62 1270.35 944.66 1271.6 945.08 1273.6 946.02 1275.1 946.39 1278.85 946.62 1281.6 946.61 1282.85 946.38 1283.35 946.03 1284.1 944.93 1284.85 943.29 1285.35 941.46 1285.6 939.76 1286.85 929.19 1288.35 914.54 1290.1 894.68 1290.85 887.62 1291.1 885.61 1291.6 882.88 1292.1 881.22 1292.35 881.1 1292.85 881.6 1293.6 883.14 1294.1 884.7 1294.35 886.09 1295.6 895.74 1297.35 912.79 1298.85 922.66 1300.1 929.92 1300.6 932.2 1301.85 936.49 1303.35 940.1 1303.85 941.04 1304.85 942.56 1305.35 943.14 1307.6 944.89 1308.35 945.34 1310.35 946.07 1311.35 946.33 1312.35 946.43 1313.85 946.31 1314.85 946.35 1318.35 947.18 1320.35 947.39 1324.1 947.51 1327.35 947.45 1328.1 947.22 1329.1 946.42 1329.85 945.46 1330.1 944.85 1331.35 939.81 1333.1 931.37 1334.85 921.48 1335.6 918.02 1335.85 917.06 1336.35 915.77 1336.8 915.06 1337.1 915.01 1337.6 915.29 1338.35 916.09 1338.85 916.93 1339.1 917.67 1340.1 921.43 1342.1 931.03 1343.6 935.91 1345.1 940.12 1346.35 942.4 1348.35 944.8 1349.85 945.92 1352.6 947.03 1355.85 947.64 1357.1 947.72 1359.35 947.69 1362.85 948.12 1364.6 948.24 1371.85 948.35 1372.85 948.25 1373.85 947.88 1374.6 947.44 1374.85 947.17 1376.1 944.76 1378.1 940.04 1379.6 935.87 1380.6 933.68 1381.35 932.79 1381.6 932.63 1381.85 932.6 1382.35 932.73 1383.1 933.11 1383.6 933.49 1383.85 933.83 1385.1 936.19 1386.85 940.35 1388.35 942.76 1389.85 944.84 1391.1 945.98 1392.6 946.9 1393.35 947.27 1394.85 947.8 1397.6 948.33 1400.85 948.63 1404.1 948.66 1408.35 948.92 1412.6 949.02 1416.85 949.04 1418.1 948.9 1419.1 948.67 1420.35 947.78 1422.35 945.96 1423.85 944.33 1424.85 943.43 1425.6 943.02 1426.35 942.91 1427.35 943.07 1428.1 943.31 1429.35 944.2 1431.1 945.86 1431.6 946.23 1434.1 947.71 1435.85 948.33 1438.85 948.93 1441.85 949.19 1451.85 949.46" fill="none" stroke="#000" stroke-width="3.1" stroke-linejoin="round" stroke-linecap="butt"/>
<line x1="916.1" y1="593.3" x2="916.1" y2="953.3" stroke="#000" stroke-width="3.5"/>
<line x1="906.6" y1="951.5" x2="1453.1" y2="951.5" stroke="#000" stroke-width="3.6"/>
<line x1="906.6" y1="595" x2="916.1" y2="595" stroke="#000" stroke-width="3.4"/>
<g transform="translate(906.6 604.8) scale(0.9304 1)"><text font-size="25.06" font-weight="bold" y="0"><tspan x="-102.81">2.5</tspan><tspan x="-67.22" font-weight="normal" font-size="26.91" dy="2.92">×</tspan><tspan x="-47.66" dy="-2.92">10</tspan><tspan x="-19.22" dy="-9.7" font-size="16.2" font-weight="normal" stroke="#000" stroke-width="0.7" textLength="19.68" lengthAdjust="spacingAndGlyphs">04</tspan></text></g>
<line x1="906.6" y1="666.4" x2="916.1" y2="666.4" stroke="#000" stroke-width="3.4"/>
<g transform="translate(906.6 676.2) scale(0.9304 1)"><text font-size="25.06" font-weight="bold" y="0"><tspan x="-102.44">2.0</tspan><tspan x="-67.22" font-weight="normal" font-size="26.91" dy="2.92">×</tspan><tspan x="-47.66" dy="-2.92">10</tspan><tspan x="-19.22" dy="-9.7" font-size="16.2" font-weight="normal" stroke="#000" stroke-width="0.7" textLength="19.68" lengthAdjust="spacingAndGlyphs">04</tspan></text></g>
<line x1="906.6" y1="737.8" x2="916.1" y2="737.8" stroke="#000" stroke-width="3.4"/>
<g transform="translate(906.6 747.6) scale(0.9304 1)"><text font-size="25.06" font-weight="bold" y="0"><tspan x="-102.81">1.5</tspan><tspan x="-67.22" font-weight="normal" font-size="26.91" dy="2.92">×</tspan><tspan x="-47.66" dy="-2.92">10</tspan><tspan x="-19.22" dy="-9.7" font-size="16.2" font-weight="normal" stroke="#000" stroke-width="0.7" textLength="19.68" lengthAdjust="spacingAndGlyphs">04</tspan></text></g>
<line x1="906.6" y1="809.2" x2="916.1" y2="809.2" stroke="#000" stroke-width="3.4"/>
<g transform="translate(906.6 819) scale(0.9304 1)"><text font-size="25.06" font-weight="bold" y="0"><tspan x="-102.44">1.0</tspan><tspan x="-67.22" font-weight="normal" font-size="26.91" dy="2.92">×</tspan><tspan x="-47.66" dy="-2.92">10</tspan><tspan x="-19.22" dy="-9.7" font-size="16.2" font-weight="normal" stroke="#000" stroke-width="0.7" textLength="19.68" lengthAdjust="spacingAndGlyphs">04</tspan></text></g>
<line x1="906.6" y1="880.6" x2="916.1" y2="880.6" stroke="#000" stroke-width="3.4"/>
<g transform="translate(906.6 890.4) scale(0.9304 1)"><text font-size="25.06" font-weight="bold" y="0"><tspan x="-102.44">5.0</tspan><tspan x="-67.22" font-weight="normal" font-size="26.91" dy="2.92">×</tspan><tspan x="-47.66" dy="-2.92">10</tspan><tspan x="-19.23" dy="-9.7" font-size="16.2" font-weight="normal" stroke="#000" stroke-width="0.7" textLength="19.88" lengthAdjust="spacingAndGlyphs">03</tspan></text></g>
<text transform="translate(886.62 961.5) scale(0.9300 1.0000)" font-size="26.26" font-weight="bold" fill="#000">0</text>
<line x1="915.7" y1="951.5" x2="915.7" y2="962" stroke="#000" stroke-width="3.3"/>
<text transform="translate(896.35 992.8) scale(0.9300 1.0000)" font-size="25.07" font-weight="bold" fill="#000">893</text>
<line x1="1005.1" y1="951.5" x2="1005.1" y2="962" stroke="#000" stroke-width="3.3"/>
<text transform="translate(985.76 992.8) scale(0.9300 1.0000)" font-size="24.61" font-weight="bold" fill="#000">894</text>
<line x1="1094.5" y1="951.5" x2="1094.5" y2="962" stroke="#000" stroke-width="3.3"/>
<text transform="translate(1075.15 992.8) scale(0.9300 1.0000)" font-size="24.91" font-weight="bold" fill="#000">895</text>
<line x1="1183.9" y1="951.5" x2="1183.9" y2="962" stroke="#000" stroke-width="3.3"/>
<text transform="translate(1164.55 992.8) scale(0.9300 1.0000)" font-size="25.07" font-weight="bold" fill="#000">896</text>
<line x1="1273.3" y1="951.5" x2="1273.3" y2="962" stroke="#000" stroke-width="3.3"/>
<text transform="translate(1253.95 992.8) scale(0.9300 1.0000)" font-size="25.15" font-weight="bold" fill="#000">897</text>
<line x1="1362.7" y1="951.5" x2="1362.7" y2="962" stroke="#000" stroke-width="3.3"/>
<text transform="translate(1343.35 992.8) scale(0.9300 1.0000)" font-size="24.99" font-weight="bold" fill="#000">898</text>
<line x1="1452.1" y1="951.5" x2="1452.1" y2="962" stroke="#000" stroke-width="3.3"/>
<text transform="translate(1432.75 992.8) scale(0.9300 1.0000)" font-size="25.07" font-weight="bold" fill="#000">899</text>
<text transform="translate(936.22 924) scale(1.0892 1.0000)" font-size="17.71" font-weight="bold" fill="#000">893.7245</text>
<text transform="translate(972.42 740.1) scale(1.0974 1.0000)" font-size="17.71" font-weight="bold" fill="#000">894.2159</text>
<text transform="translate(1021.32 714.5) scale(1.0960 1.0000)" font-size="17.71" font-weight="bold" fill="#000">894.7173</text>
<text transform="translate(1082.81 643.5) scale(1.1029 1.0000)" font-size="17.71" font-weight="bold" fill="#000">895.2160</text>
<text transform="translate(1124.52 690.5) scale(1.0960 1.0000)" font-size="17.71" font-weight="bold" fill="#000">895.7167</text>
<text transform="translate(1168.01 749.5) scale(1.1015 1.0000)" font-size="17.71" font-weight="bold" fill="#000">896.2160</text>
<text transform="translate(1215.12 819.9) scale(1.0919 1.0000)" font-size="17.71" font-weight="bold" fill="#000">896.7169</text>
<text transform="translate(1270.92 875.5) scale(1.0960 1.0000)" font-size="17.71" font-weight="bold" fill="#000">897.2166</text>
<text transform="translate(1307.12 908.2) scale(1.0892 1.0000)" font-size="17.71" font-weight="bold" fill="#000">897.7181</text>
<text transform="translate(1352.42 928.8) scale(1.0919 1.0000)" font-size="17.71" font-weight="bold" fill="#000">898.2189</text>
<path d="M1400 818.2 1406 818.18 1408.5 818.09 1410.5 817.74 1411.5 817.33 1412 817.01 1413 816.06 1413.5 815.36 1414.5 813.38 1415.5 810.31 1416.5 805.79 1417.5 799.4 1418.5 790.8 1420 773.33 1421.5 750.82 1424 708.73 1425.5 687.67 1426 682.43 1426.5 678.32 1427 675.47 1427.5 673.95 1428 673.81 1428.5 675.05 1429 677.65 1429.5 681.51 1430.5 692.6 1431.5 707.14 1434.5 757.23 1435.5 771.96 1436.5 784.45 1437.5 794.46 1438.5 802.08 1439.5 807.55 1440.5 811.21 1441 812.46 1441.5 813.37 1442 813.97 1442.5 814.27 1443 814.3 1443.5 814.04 1444 813.51 1444.5 812.67 1445 811.52 1446 808.15 1447 803.15 1447.5 799.96 1448.5 792.05 1450 776.28 1451 763.45 1453.5 727.96 1455 709.67 1456 701.22 1456.5 698.49 1457 696.87 1457.5 696.41 1458 697.11 1458.5 698.95 1459 701.9 1460 710.71 1461.5 729.34 1464.5 771.34 1466 788.28 1467 797.01 1467.5 800.59 1468.5 806.28 1469 808.43 1470 811.53 1470.5 812.52 1471 813.17 1471.5 813.48 1472 813.45 1472.5 813.09 1473 812.36 1473.5 811.24 1474 809.69 1474.5 807.66 1475 805.08 1476 798.06 1477 788.09 1478 774.73 1479 757.73 1480 737.22 1483.5 651.86 1484.5 630.8 1485.5 615.05 1486 609.71 1486.5 606.27 1487 604.84 1487.5 605.46 1488 608.1 1488.5 612.69 1489.5 627.17 1491 658.9 1493.5 721.09 1494.5 743.71 1495.5 763.21 1496.5 779.1 1497.5 791.4 1498 796.28 1499 803.82 1500 808.81 1500.5 810.5 1501 811.73 1501.5 812.52 1502 812.92 1502.5 812.94 1503 812.59 1503.5 811.86 1504 810.73 1504.5 809.19 1505.5 804.72 1506 801.72 1507 793.99 1508 783.75 1509.5 763.61 1513 703.81 1514.5 682.2 1515 676.87 1515.5 672.74 1516 669.91 1516.5 668.48 1517 668.48 1517.5 669.91 1518 672.74 1518.5 676.87 1519.5 688.58 1520.5 703.81 1524 763.62 1525 777.67 1526 789.22 1527 798.22 1527.5 801.82 1528.5 807.4 1529.5 811.11 1530 812.38 1530.5 813.3 1531 813.91 1531.5 814.22 1532 814.24 1532.5 813.98 1533 813.43 1533.5 812.58 1534 811.41 1535 807.99 1535.5 805.69 1536.5 799.71 1537 795.99 1538 786.98 1539 775.92 1540 763.09 1542.5 727.8 1544 709.79 1545 701.58 1545.5 698.97 1546 697.47 1546.5 697.12 1547 697.94 1547.5 699.88 1548 702.92 1549 711.86 1550 723.81 1553.5 772.25 1554.5 783.88 1555.5 793.53 1556.5 801.12 1557 804.17 1558 808.96 1558.5 810.76 1559.5 813.38 1560 814.27 1560.5 814.91 1561 815.33 1561.5 815.54 1562 815.57 1562.5 815.41 1563 815.06 1563.5 814.52 1564 813.78 1565 811.64 1565.5 810.21 1566.5 806.54 1567.5 801.74 1569 792.42 1572 769.32 1573.5 759.07 1574.5 754.22 1575 752.61 1575.5 751.59 1576 751.2 1576.5 751.46 1577 752.35 1577.5 753.85 1578.5 758.5 1580 768.56 1582.5 788.09 1583.5 795.15 1584.5 801.21 1585.5 806.15 1586.5 809.96 1587 811.48 1588 813.81 1589 815.37 1589.5 815.91 1590.5 816.59 1591 816.76 1592 816.78 1593 816.41 1593.5 816.07 1594.5 815.07 1595 814.39 1596 812.63 1597 810.3 1598.5 805.72 1602 792.22 1603 788.82 1604 786.23 1604.5 785.32 1605 784.72 1605.5 784.43 1606 784.46 1606.5 784.81 1607 785.48 1608 787.67 1609.5 792.59 1613 806.06 1614 809.21 1615 811.79 1616 813.79 1616.5 814.59 1617.5 815.84 1618.5 816.69 1619 816.99 1620 817.38 1621.5 817.56 1623 817.32 1624.5 816.65 1625.5 815.94 1626.5 814.97 1628 813.06 1631.5 807.3 1633 805.16 1634 804.2 1634.5 803.9 1635 803.73 1635.5 803.71 1636 803.82 1636.5 804.06 1637 804.44 1638 805.53 1639 806.98 1642.5 812.77 1643.5 814.16 1644.5 815.3 1645.5 816.2 1647 817.12 1648 817.51 1649.5 817.84 1651 817.95 1652.5 817.9 1654 817.68 1655.5 817.29 1658 816.21 1661 814.45 1662.5 813.68 1664 813.2 1665 813.1 1666 813.2 1667.5 813.68 1669 814.45 1672 816.21 1674 817.12 1676 817.7 1678.5 818.04 1681.5 818.12 1684.5 817.98 1687 817.68 1692 816.8 1694.5 816.6 1697 816.76 1703.5 817.84 1707.5 818.13 1714 818.13 1724.5 817.7 1734 818.12 1740 818.2" fill="none" stroke="#2f2fff" stroke-width="1.3" stroke-linejoin="round" stroke-linecap="butt"/>
<line x1="1353.5" y1="818.4" x2="1745.7" y2="818.4" stroke="#505050" stroke-width="1.3"/>
<line x1="1414.7" y1="819" x2="1414.7" y2="825.6" stroke="#333" stroke-width="1"/>
<text transform="translate(1390.27 840.2) scale(1.2973 1.0000)" font-size="12.57" font-weight="normal" fill="#111">894,00</text>
<line x1="1532.8" y1="819" x2="1532.8" y2="825.6" stroke="#333" stroke-width="1"/>
<text transform="translate(1508.37 840.2) scale(1.2973 1.0000)" font-size="12.57" font-weight="normal" fill="#111">896,00</text>
<line x1="1651.2" y1="819" x2="1651.2" y2="825.6" stroke="#333" stroke-width="1"/>
<text transform="translate(1626.77 840.2) scale(1.2973 1.0000)" font-size="12.57" font-weight="normal" fill="#111">898,00</text>
<text transform="translate(1429.29 595.5) scale(0.9300 1.0000)" font-size="24.16" font-weight="normal" fill="#000">895.2238</text>
</g>
<g id="panelE">
<text transform="translate(8.32 1139.9) scale(0.9712 1.0000)" font-size="42.46" font-weight="bold" fill="#000">E</text>
<rect x="148.8" y="1155.2" width="23.8" height="343.1" fill="#ff0000"/>
<rect x="307.9" y="1187.1" width="23.9" height="311.2" fill="#c8f7e5"/>
<rect x="336" y="1478.8" width="23.7" height="19.5" fill="#0000c0"/>
<rect x="438.8" y="1296.9" width="23.7" height="201.4" fill="#c8f7e5"/>
<rect x="466.9" y="1461.7" width="23.7" height="36.6" fill="#0000c0"/>
<rect x="569.9" y="1358.7" width="23.7" height="139.6" fill="#c8f7e5"/>
<rect x="597.8" y="1420.5" width="23.7" height="77.8" fill="#0000c0"/>
<line x1="142.8" y1="1153.5" x2="142.8" y2="1500" stroke="#000" stroke-width="3"/>
<line x1="132.7" y1="1498.3" x2="658.7" y2="1498.3" stroke="#000" stroke-width="3.4"/>
<line x1="132.7" y1="1155" x2="142.8" y2="1155" stroke="#000" stroke-width="3"/>
<line x1="132.7" y1="1223.6" x2="142.8" y2="1223.6" stroke="#000" stroke-width="3"/>
<line x1="132.7" y1="1292.2" x2="142.8" y2="1292.2" stroke="#000" stroke-width="3"/>
<line x1="132.7" y1="1360.8" x2="142.8" y2="1360.8" stroke="#000" stroke-width="3"/>
<line x1="132.7" y1="1429.4" x2="142.8" y2="1429.4" stroke="#000" stroke-width="3"/>
<text transform="translate(101.51 1163.8) scale(1.0000 1.0000)" font-size="24.1" font-weight="bold" fill="#000">10</text>
<text transform="translate(114.65 1232.46) scale(1.0000 1.0000)" font-size="24.1" font-weight="bold" fill="#000">8</text>
<text transform="translate(114.77 1301.12) scale(1.0000 1.0000)" font-size="24.1" font-weight="bold" fill="#000">6</text>
<text transform="translate(114.04 1369.78) scale(1.0000 1.0000)" font-size="24.1" font-weight="bold" fill="#000">4</text>
<text transform="translate(114.89 1438.44) scale(1.0000 1.0000)" font-size="24.1" font-weight="bold" fill="#000">2</text>
<text transform="translate(114.89 1507.1) scale(1.0000 1.0000)" font-size="24.1" font-weight="bold" fill="#000">0</text>
<text transform="translate(82.4 1394.6) rotate(-90) translate(-2.21 0) scale(0.9756 1)" font-size="34.78" font-weight="bold" fill="#000">Intensity</text>
<line x1="202.3" y1="1498.3" x2="202.3" y2="1508.4" stroke="#000" stroke-width="3.2"/>
<text transform="translate(207.71 1535.39) rotate(-45) translate(-64.62 0) scale(1.0000 1)" font-size="25" font-weight="bold" fill="#000" stroke="#000" stroke-width="0.35" stroke-linejoin="round">CTR1</text>
<line x1="333.4" y1="1498.3" x2="333.4" y2="1508.4" stroke="#000" stroke-width="3.2"/>
<text transform="translate(342.7 1531.5) rotate(-45) translate(-128.9 0) scale(1.0000 1)" font-size="25.6" font-weight="bold" fill="#000" stroke="#000" stroke-width="0.35" stroke-linejoin="round">+ 0.5 Cu(II)</text>
<line x1="464.2" y1="1498.3" x2="464.2" y2="1508.4" stroke="#000" stroke-width="3.2"/>
<text transform="translate(473.43 1531.57) rotate(-45) translate(-138.01 0) scale(1.0000 1)" font-size="25.7" font-weight="bold" fill="#000" stroke="#000" stroke-width="0.35" stroke-linejoin="round">+ 1eq Cu(II)</text>
<line x1="595.3" y1="1498.3" x2="595.3" y2="1508.4" stroke="#000" stroke-width="3.2"/>
<text transform="translate(604.32 1531.78) rotate(-45) translate(-137.47 0) scale(1.0000 1)" font-size="25.6" font-weight="bold" fill="#000" stroke="#000" stroke-width="0.35" stroke-linejoin="round">+2 eq Cu(II)</text>
<rect x="643.5" y="1135.1" width="42.2" height="19.7" fill="#ff0000"/>
<rect x="643.5" y="1176" width="42.2" height="20" fill="#c8f7e5"/>
<rect x="643.5" y="1222.4" width="42.2" height="20.1" fill="#0000c0"/>
<text transform="translate(703.38 1153.6) scale(0.9730 1.0000)" font-size="26.09" font-weight="bold" fill="#000">CTR1</text>
<text transform="translate(703.36 1194.6) scale(0.9939 1.0000)" font-size="26.09" font-weight="bold" fill="#000">CTR1 + Cu (II)</text>
<text transform="translate(703.37 1241) scale(0.9907 1.0000)" font-size="26.09" font-weight="bold" fill="#000">CTR1 + 2Cu(II)</text>
</g>
</svg>
</body></html>
